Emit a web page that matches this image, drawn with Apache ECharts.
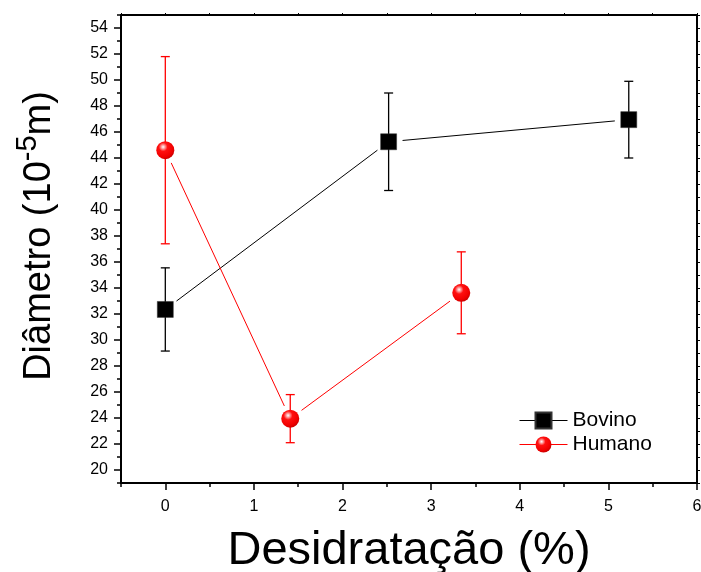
<!DOCTYPE html>
<html>
<head>
<meta charset="utf-8">
<script src="https://cdn.jsdelivr.net/npm/echarts@6/dist/echarts.min.js"></script>
<style>
  html, body { margin: 0; padding: 0; background: #fff; }
  #chart { width: 701px; height: 572px; }
</style>
</head>
<body>
<div id="chart"></div>
<script>
// Desidratação (%) e diâmetro médio (10^-5 m) com barras de erro
const desidratacaoBovino = [0, 2.52, 5.23];
const diametroBovino = [32.35, 45.25, 46.95];
const erroBovino = [3.2, 3.75, 2.95];

const desidratacaoHumano = [0, 1.41, 3.34];
const diametroHumano = [44.6, 23.95, 33.63];
const erroHumano = [7.2, 1.85, 3.15];

const xTicks = [0, 1, 2, 3, 4, 5, 6];
const yTicks = [20, 22, 24, 26, 28, 30, 32, 34, 36, 38, 40, 42, 44, 46, 48, 50, 52, 54];

const FONT = 'Liberation Sans';

function pontos(xs, ys) {
  return xs.map((x, i) => [x, ys[i]]);
}
function barras(xs, ys, es) {
  return xs.map((x, i) => [x, ys[i] - es[i], ys[i] + es[i]]);
}
function segmentos(xs, ys) {
  const out = [];
  for (let i = 0; i < xs.length - 1; i++) out.push([xs[i], ys[i], xs[i + 1], ys[i + 1]]);
  return out;
}

// Error bars with short caps
function renderErro(color) {
  return function (params, api) {
    const x = api.value(0);
    const top = api.coord([x, api.value(2)]);
    const bot = api.coord([x, api.value(1)]);
    const w = 4.5;
    const st = { stroke: color, lineWidth: 1.3 };
    return {
      type: 'group',
      children: [
        { type: 'line', shape: { x1: top[0], y1: top[1], x2: bot[0], y2: bot[1] }, style: st },
        { type: 'line', shape: { x1: top[0] - w, y1: top[1], x2: top[0] + w, y2: top[1] }, style: st },
        { type: 'line', shape: { x1: bot[0] - w, y1: bot[1], x2: bot[0] + w, y2: bot[1] }, style: st }
      ]
    };
  };
}

// Connecting lines that stop short of the markers
function renderLinha(color) {
  return function (params, api) {
    const a = api.coord([api.value(0), api.value(1)]);
    const b = api.coord([api.value(2), api.value(3)]);
    const dx = b[0] - a[0], dy = b[1] - a[1];
    const len = Math.sqrt(dx * dx + dy * dy);
    const gap = 14;
    const ux = dx / len, uy = dy / len;
    return {
      type: 'line',
      shape: { x1: a[0] + ux * gap, y1: a[1] + uy * gap, x2: b[0] - ux * gap, y2: b[1] - uy * gap },
      style: { stroke: color, lineWidth: 1 }
    };
  };
}

const esfera = {
  type: 'radial', x: 0.38, y: 0.32, r: 0.7,
  colorStops: [
    { offset: 0, color: '#ffffff' },
    { offset: 0.12, color: '#ffb0b0' },
    { offset: 0.35, color: '#ff1010' },
    { offset: 0.8, color: '#f00000' },
    { offset: 1, color: '#c80000' }
  ]
};

const chart = echarts.init(document.getElementById('chart'), null, { renderer: 'canvas' });

const axisLineStyle = { color: '#000', width: 2 };
const tickStyle = { color: '#000', width: 1.5 };

chart.setOption({
  animation: false,
  backgroundColor: '#fff',
  grid: { left: 121, right: 4, top: 15, bottom: 89, containLabel: false, outerBoundsMode: 'none' },
  legend: {
    orient: 'vertical',
    left: 519,
    top: 410,
    padding: 0,
    itemWidth: 48,
    itemHeight: 20,
    itemGap: 3,
    textStyle: { fontFamily: FONT, fontSize: 21, color: '#000' },
    data: [
      { name: 'Bovino', lineStyle: { color: '#000', width: 1, opacity: 1 } },
      { name: 'Humano', lineStyle: { color: '#ff0000', width: 1, opacity: 1 } }
    ]
  },
  xAxis: [
    {
      type: 'value', position: 'bottom', min: -0.5, max: 6, interval: 0.5,
      name: 'Desidratação (%)', nameLocation: 'middle', nameGap: 45,
      nameTextStyle: { fontFamily: FONT, fontSize: 47, color: '#000' },
      axisLine: { show: true, onZero: false, lineStyle: axisLineStyle },
      axisTick: { show: true, inside: false, length: 4, lineStyle: tickStyle },
      axisLabel: { customValues: xTicks, fontFamily: FONT, fontSize: 16, color: '#000', margin: 16 },
      splitLine: { show: false }
    },
    {
      type: 'value', position: 'bottom', min: -0.5, max: 6,
      axisLine: { show: false, onZero: false },
      axisTick: { show: true, inside: false, length: 7, customValues: xTicks, lineStyle: tickStyle },
      axisLabel: { show: false },
      splitLine: { show: false }
    },
    {
      type: 'value', position: 'top', min: -0.5, max: 6, interval: 0.5,
      axisLine: { show: true, onZero: false, lineStyle: axisLineStyle },
      axisTick: { show: true, inside: false, length: 2, lineStyle: { color: '#000', width: 1 } },
      axisLabel: { show: false },
      splitLine: { show: false }
    }
  ],
  yAxis: [
    {
      type: 'value', position: 'left', min: 19, max: 55, interval: 1,
      name: '{t|Diâmetro (10}{s|-5}{t|m)}', nameLocation: 'middle', nameGap: 62, nameRotate: 90,
      nameTextStyle: {
        padding: [0, 0, 0, 26],
        rich: {
          t: { fontFamily: FONT, fontSize: 38, color: '#000', verticalAlign: 'bottom' },
          s: { fontFamily: FONT, fontSize: 29, color: '#000', verticalAlign: 'top', padding: [0, 0, 17, 0] }
        }
      },
      axisLine: { show: true, onZero: false, lineStyle: axisLineStyle },
      axisTick: { show: true, inside: false, length: 4, lineStyle: tickStyle },
      axisLabel: { customValues: yTicks, fontFamily: FONT, fontSize: 16, color: '#000', margin: 13 },
      splitLine: { show: false }
    },
    {
      type: 'value', position: 'left', min: 19, max: 55,
      axisLine: { show: false, onZero: false },
      axisTick: { show: true, inside: false, length: 7, customValues: yTicks, lineStyle: tickStyle },
      axisLabel: { show: false },
      splitLine: { show: false }
    },
    {
      type: 'value', position: 'right', min: 19, max: 55, interval: 1,
      axisLine: { show: true, onZero: false, lineStyle: axisLineStyle },
      axisTick: { show: true, inside: false, length: 3, lineStyle: { color: '#000', width: 1 } },
      axisLabel: { show: false },
      splitLine: { show: false }
    }
  ],
  series: [
    {
      name: 'linhaBovino', type: 'custom', renderItem: renderLinha('#000'),
      data: segmentos(desidratacaoBovino, diametroBovino),
      encode: { x: [0, 2], y: [1, 3] }, z: 2, silent: true
    },
    {
      name: 'linhaHumano', type: 'custom', renderItem: renderLinha('#ff0000'),
      data: segmentos(desidratacaoHumano, diametroHumano),
      encode: { x: [0, 2], y: [1, 3] }, z: 2, silent: true
    },
    {
      name: 'erroBovino', type: 'custom', renderItem: renderErro('#000'),
      data: barras(desidratacaoBovino, diametroBovino, erroBovino),
      encode: { x: 0, y: [1, 2] }, z: 3, silent: true
    },
    {
      name: 'erroHumano', type: 'custom', renderItem: renderErro('#ff0000'),
      data: barras(desidratacaoHumano, diametroHumano, erroHumano),
      encode: { x: 0, y: [1, 2] }, z: 3, silent: true
    },
    {
      name: 'Bovino', type: 'line', data: pontos(desidratacaoBovino, diametroBovino),
      symbol: 'rect', symbolSize: 16, showSymbol: true,
      itemStyle: { color: '#000', borderColor: '#333', borderWidth: 0.5 },
      lineStyle: { opacity: 0, color: '#000', width: 1 }, z: 5
    },
    {
      name: 'Humano', type: 'line', data: pontos(desidratacaoHumano, diametroHumano),
      symbol: 'circle', symbolSize: 18, showSymbol: true,
      itemStyle: { color: esfera },
      lineStyle: { opacity: 0, color: '#ff0000', width: 1 }, z: 5
    }
  ]
});
</script>
</body>
</html>
